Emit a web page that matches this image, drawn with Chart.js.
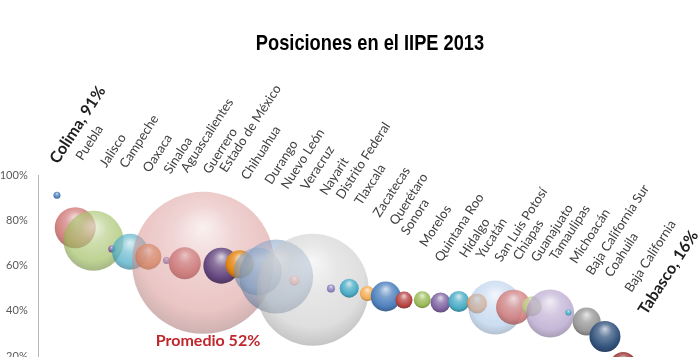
<!DOCTYPE html>
<html><head><meta charset="utf-8">
<script src="https://cdn.jsdelivr.net/npm/chart.js@4"></script>
<style>
html,body{margin:0;padding:0;background:#fff;overflow:hidden;width:700px;height:357px}
canvas{display:block}
</style></head><body>
<canvas id="c" width="700" height="357" style="width:700px;height:357px"></canvas>
<script>
// ---- data ----
const chartTitle = 'Posiciones en el IIPE 2013';
const averageLabel = 'Promedio 52%';
const states = ['Colima','Puebla','Jalisco','Campeche','Oaxaca','Sinaloa','Aguascalientes','Guerrero','Estado de México','Chihuahua','Durango','Nuevo León','Veracruz','Nayarit','Distrito Federal','Tlaxcala','Zacatecas','Querétaro','Sonora','Morelos','Quintana Roo','Hidalgo','Yucatán','San Luis Potosí','Chiapas','Guanajuato','Tamaulipas','Michoacán','Baja California Sur','Coahuila','Baja California','Tabasco'];
const rank = [1,2,3,4,5,6,7,8,9,10,11,12,13,14,15,16,17,18,19,20,21,22,23,24,25,26,27,28,29,30,31,32];
const iipe = [91,76.7,70.9,67.3,66.1,63.9,62.2,61.0,61.2,59.9,60.5,57.3,55.1,53.4,49.3,49.8,50.0,47.6,46.3,44.7,44.9,43.6,44.1,43.2,41.4,41.6,42.0,38.8,39.2,35.2,28.6,16];
const bubbleSize = [3.5,20.5,30,3.5,18,13,3.5,16,71,18,14,24,37,5,56,4,9.5,7.5,15,8.5,8.5,10,10.5,10,27,17.5,10,24,3,14,15.5,13];
const yTickValues = [20,40,60,80,100];
const yTickLabels = ['20%','40%','60%','80%','100%'];

// ---- styles / layout ----
const bubbleColor = ['#4F81BD','#C0504D','#9BBB59','#8064A2','#4BACC6','#D0702E','#6E66AE','#B84A4D','#D99694','#65487F','#E38512','#7F9DC2','#7F9DC2','#E0A0A0','#C4C4C4','#8F84C0','#4BACC6','#F5AE55','#4F81BD','#B84444','#9BBB59','#8064A2','#4BACC6','#F79646','#A9C6E8','#D0706E','#B8CF80','#AE9AC8','#4BACC6','#9A9A9A','#34557F','#953735'];
const bubbleAlpha = [1,0.7,0.65,1,0.75,0.85,1,1,0.55,1,1,0.62,0.62,1,0.55,1,1,1,1,1,1,1,1,1,0.6,0.8,0.8,0.7,1,1,1,1];
const labelX = [0.80,2.15,3.45,4.54,5.82,6.97,7.90,9.11,10.02,11.20,12.49,13.38,14.47,15.50,16.39,17.41,18.42,19.33,19.95,20.97,21.80,23.16,24.06,25.08,26.08,27.07,28.09,29.19,30.08,31.11,32.20,33.02];
const labelY = [105.9,107.5,104.4,104.0,102.2,101.5,102.2,101.5,102.2,98.9,96.9,94.8,94.3,92.1,90.4,87.7,82.4,78.9,74.4,69.2,62.6,64.5,64.0,62.6,63.4,62.6,63.4,61.8,56.8,55.9,49.3,39.2];
const labelShift = {x: 0.25, y: -1.4};
const averageAt = {x: 9.27, y: 24.2};

function hexRgb(h){const n=parseInt(h.slice(1),16);return [(n>>16)&255,(n>>8)&255,n&255];}
function mix(c,t,k){return c.map((v,i)=>Math.round(v*(1-k)+t[i]*k));}
function rgba(c,a){return `rgba(${c[0]},${c[1]},${c[2]},${a})`;}

function bubbleFill(c){
  if (c.type !== 'data') return 'rgba(0,0,0,0)';
  const i = c.dataIndex, chart = c.chart, xs = chart.scales.x, ys = chart.scales.y;
  const base = hexRgb(bubbleColor[i]), a = bubbleAlpha[i];
  if (!xs || !ys || !c.raw) return rgba(base,a);
  const px = xs.getPixelForValue(c.raw.x), py = ys.getPixelForValue(c.raw.y), r = c.raw.r;
  if (!isFinite(px) || !isFinite(py) || !isFinite(r) || r <= 0) return rgba(base,a);
  const g = chart.ctx.createRadialGradient(px, py - r*0.5, r*0.03, px, py - r*0.15, r*1.2);
  const W=[255,255,255], K=[0,0,0];
  g.addColorStop(0, rgba(mix(base,W,0.72),a));
  g.addColorStop(0.35, rgba(mix(base,W,0.25),a));
  g.addColorStop(0.75, rgba(base,a));
  g.addColorStop(1, rgba(mix(base,K,0.28),a));
  return g;
}

const textPlugin = {
  id: 'texts',
  afterDatasetsDraw(chart){
    const {ctx, scales:{x,y}} = chart;
    ctx.save();
    states.forEach((s,i)=>{
      const bold = i===0 || i===states.length-1;
      ctx.save();
      ctx.translate(x.getPixelForValue(labelX[i] + labelShift.x), y.getPixelForValue(labelY[i] + labelShift.y));
      ctx.rotate(-57*Math.PI/180);
      ctx.font = bold ? 'bold 16px Lato' : '13px Lato';
      ctx.fillStyle = bold ? '#1e1e1e' : '#404040';
      ctx.textAlign = 'left'; ctx.textBaseline = 'alphabetic';
      ctx.fillText(bold ? `${s}, ${Math.round(iipe[i])}%` : s, 0, 0);
      ctx.restore();
    });
    ctx.save();
    ctx.translate(370, 50);
    ctx.scale(0.83, 1);
    ctx.font = 'bold 22px "Liberation Sans", Arial';
    ctx.fillStyle = '#000'; ctx.textAlign = 'center'; ctx.textBaseline = 'alphabetic';
    ctx.fillText(chartTitle, 0, 0);
    ctx.restore();
    ctx.font = 'bold 16px Lato';
    ctx.fillStyle = '#C0272D'; ctx.textAlign = 'center';
    ctx.fillText(averageLabel, x.getPixelForValue(averageAt.x), y.getPixelForValue(averageAt.y));
    ctx.restore();
  }
};

function draw(){
  new Chart(document.getElementById('c'), {
    type: 'bubble',
    data: { datasets: [{
      data: rank.map((v,i)=>({x:v, y:iipe[i], r:bubbleSize[i]})),
      backgroundColor: bubbleFill, borderWidth: 0, hoverRadius: 0, hoverBorderWidth: 0, clip: false
    }]},
    options: {
      responsive: false, maintainAspectRatio: false, animation: false, events: [],
      layout: { autoPadding: false, padding: { top: 175, right: 22, bottom: 1, left: 0 } },
      plugins: { legend:{display:false}, tooltip:{enabled:false}, title:{display:false} },
      scales: {
        x: { type:'linear', display:false, min:0, max:35 },
        y: { type:'linear', min:20, max:100,
             afterFit(s){ s.width = 38.7; s.paddingTop = 0; s.paddingBottom = 0; },
             afterBuildTicks(s){ s.ticks = yTickValues.map(v=>({value:v})); },
             ticks: { padding: 11, color:'#595959', font:{family:'Lato', size:11},
                      callback: v => yTickLabels[yTickValues.indexOf(v)] },
             grid: { display:false, drawTicks:false },
             border: { display:true, color:'#b5b5b5', width:1 } }
      }
    },
    plugins: [textPlugin]
  });
}
const fontsReady = document.fonts ? Promise.all([
  document.fonts.load('13px Lato'), document.fonts.load('bold 16px Lato'),
  document.fonts.load('bold 22px "Liberation Sans"')]) : Promise.resolve();
Promise.race([fontsReady, new Promise(r=>setTimeout(r,500))]).then(draw, draw);
</script>
</body></html>
